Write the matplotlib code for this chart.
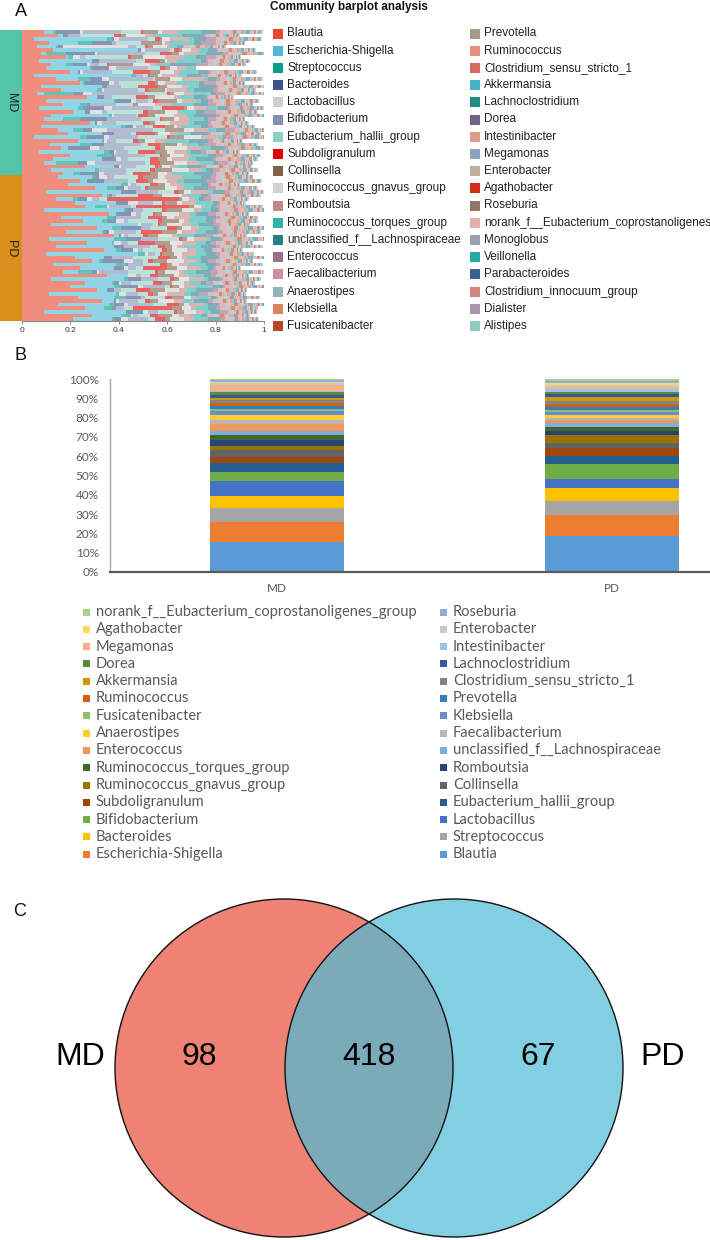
import numpy as np
import matplotlib
matplotlib.use("Agg")
import matplotlib.pyplot as plt
from matplotlib.patches import Rectangle, Circle

# =============================================================================
# Data
# =============================================================================

# Panel A: per-sample genus composition (stack order = legend order)
taxa_a = [
    "Blautia", "Escherichia-Shigella", "Streptococcus", "Bacteroides",
    "Lactobacillus", "Bifidobacterium", "Eubacterium_hallii_group",
    "Subdoligranulum", "Collinsella", "Ruminococcus_gnavus_group",
    "Romboutsia", "Ruminococcus_torques_group",
    "unclassified_f__Lachnospiraceae", "Enterococcus", "Faecalibacterium",
    "Anaerostipes", "Klebsiella", "Fusicatenibacter",
    "Prevotella", "Ruminococcus", "Clostridium_sensu_stricto_1",
    "Akkermansia", "Lachnoclostridium", "Dorea", "Intestinibacter",
    "Megamonas", "Enterobacter", "Agathobacter", "Roseburia",
    "norank_f__Eubacterium_coprostanoligenes_group", "Monoglobus",
    "Veillonella", "Parabacteroides", "Clostridium_innocuum_group",
    "Dialister", "Alistipes",
]
colors_a = [
    "#E8472E", "#4DBBD5", "#00A087", "#3C5488", "#D0D0D0", "#8491B4",
    "#91D1C2", "#E00000", "#7E6148", "#D3D3D3", "#C08A85", "#2EB3AB",
    "#2E7B8C", "#9C6E8C", "#CC919C", "#93B3BF", "#D9865F", "#B5452D",
    "#A8988A", "#E3907E", "#D66A5C", "#45B4C8", "#218A82", "#73638A",
    "#DE9A8D", "#8CA2BF", "#C0AE96", "#CC3314", "#8E7663", "#E3AFAB",
    "#9AA3AD", "#26ABA2", "#3A618B", "#CF8680", "#A595AD", "#8DCBC1",
]

# first 14 genera per sample (estimated), top sample first
md_rows = [
    [.09, .04, .01, .10, .01, .16, .08, .01, .06, .02, .07, .09, .06, .02],
    [.15, .02, .00, .02, .00, .05, .14, .03, .02, .08, .03, .12, .09, .01],
    [.05, .30, .02, .01, .02, .12, .03, .02, .01, .03, .08, .02, .05, .04],
    [.11, .12, .06, .08, .00, .02, .10, .00, .09, .01, .02, .10, .03, .06],
    [.06, .08, .01, .02, .27, .03, .04, .01, .02, .06, .01, .03, .02, .01],
    [.13, .35, .00, .01, .02, .10, .02, .02, .01, .04, .03, .04, .03, .01],
    [.08, .02, .08, .12, .01, .20, .06, .05, .03, .02, .06, .03, .07, .02],
    [.18, .01, .02, .00, .03, .02, .18, .01, .05, .09, .08, .05, .04, .04],
    [.07, .22, .00, .03, .00, .15, .04, .06, .02, .01, .04, .10, .02, .01],
    [.12, .06, .03, .06, .01, .04, .03, .01, .10, .07, .02, .06, .11, .05],
    [.10, .18, .01, .07, .03, .13, .05, .02, .02, .03, .04, .04, .00, .00],
    [.20, .03, .00, .01, .01, .12, .09, .07, .04, .06, .02, .08, .04, .01],
    [.05, .40, .02, .00, .00, .03, .02, .01, .03, .02, .07, .03, .06, .03],
    [.14, .09, .05, .05, .03, .18, .01, .00, .06, .05, .09, .02, .03, .02],
    [.24, .01, .01, .10, .02, .02, .12, .03, .01, .03, .05, .09, .02, .05],
    [.08, .25, .00, .02, .00, .06, .07, .08, .04, .06, .03, .04, .07, .01],
    [.16, .15, .02, .00, .01, .14, .03, .01, .07, .01, .08, .03, .08, .02],
    [.06, .03, .12, .04, .04, .22, .09, .01, .02, .04, .04, .07, .02, .04],
    [.27, .04, .00, .03, .00, .03, .10, .05, .03, .08, .02, .06, .05, .01],
    [.10, .28, .01, .06, .02, .05, .02, .02, .08, .02, .06, .02, .03, .02],
    [.17, .07, .03, .01, .00, .11, .07, .00, .02, .07, .07, .09, .06, .03],
    [.07, .16, .02, .09, .03, .17, .04, .09, .01, .03, .05, .05, .04, .01],
    [.21, .05, .00, .02, .05, .02, .15, .02, .07, .05, .01, .07, .03, .05],
    [.12, .24, .01, .00, .01, .09, .01, .04, .03, .08, .05, .03, .09, .02],
    [.09, .08, .07, .11, .00, .14, .08, .01, .05, .02, .04, .06, .02, .03],
    [.28, .02, .00, .01, .02, .06, .11, .03, .02, .06, .08, .02, .06, .01],
    [.08, .33, .02, .03, .01, .04, .03, .05, .04, .01, .02, .08, .03, .02],
    [.15, .06, .04, .04, .06, .19, .05, .00, .08, .04, .06, .03, .04, .04],
    [.19, .14, .00, .05, .00, .07, .02, .08, .01, .05, .03, .06, .07, .01],
    [.05, .19, .03, .07, .02, .12, .12, .01, .06, .07, .07, .02, .01, .03],
    [.23, .10, .01, .00, .01, .04, .07, .02, .03, .04, .04, .10, .08, .02],
    [.11, .13, .05, .05, .00, .15, .03, .05, .07, .02, .02, .05, .02, .05],
    [.16, .03, .00, .09, .04, .10, .13, .02, .02, .09, .06, .04, .06, .01],
    [.07, .27, .02, .02, .01, .05, .04, .07, .05, .03, .05, .02, .04, .02],
    [.20, .11, .06, .01, .00, .13, .06, .01, .03, .06, .02, .08, .03, .03],
    [.13, .20, .00, .06, .02, .03, .09, .03, .04, .02, .07, .03, .07, .01],
    [.09, .05, .09, .04, .03, .21, .02, .04, .06, .05, .05, .06, .02, .04],
    [.26, .12, .00, .02, .01, .06, .08, .01, .02, .03, .03, .04, .06, .02],
    [.12, .18, .02, .00, .00, .11, .10, .02, .07, .07, .05, .02, .03, .03],
    [.17, .04, .03, .08, .02, .09, .03, .07, .03, .04, .02, .09, .08, .01],
]
pd_rows = [
    [.15, .14, .01, .02, .03, .03, .10, .02, .06, .03, .07, .08, .04, .02],
    [.24, .03, .00, .07, .00, .10, .03, .05, .02, .06, .04, .03, .09, .04],
    [.19, .22, .03, .00, .01, .02, .06, .03, .03, .02, .06, .07, .03, .01],
    [.30, .05, .04, .03, .02, .05, .02, .01, .07, .05, .03, .04, .06, .03],
    [.10, .31, .00, .06, .00, .09, .07, .02, .02, .03, .07, .02, .05, .02],
    [.33, .02, .01, .01, .00, .02, .09, .06, .04, .08, .02, .06, .03, .01],
    [.14, .07, .02, .04, .02, .03, .03, .30, .01, .03, .02, .02, .02, .03],
    [.22, .17, .00, .05, .04, .06, .04, .01, .05, .02, .06, .07, .02, .01],
    [.26, .04, .05, .00, .01, .09, .02, .22, .02, .03, .01, .03, .02, .02],
    [.09, .33, .01, .03, .00, .04, .08, .02, .06, .05, .03, .04, .03, .01],
    [.36, .03, .00, .06, .02, .02, .05, .01, .03, .07, .05, .02, .05, .03],
    [.16, .19, .03, .01, .00, .10, .03, .06, .02, .03, .07, .06, .04, .02],
    [.25, .08, .02, .04, .03, .02, .12, .02, .07, .02, .02, .07, .03, .01],
    [.12, .36, .00, .00, .01, .05, .02, .01, .03, .06, .04, .03, .06, .03],
    [.31, .06, .04, .08, .00, .04, .07, .04, .02, .04, .03, .06, .02, .01],
    [.18, .15, .01, .02, .02, .09, .02, .09, .06, .02, .06, .04, .05, .02],
    [.38, .02, .00, .01, .01, .02, .06, .02, .04, .06, .02, .07, .05, .03],
    [.11, .27, .05, .06, .00, .07, .09, .01, .02, .03, .05, .02, .04, .01],
    [.27, .10, .01, .00, .03, .03, .04, .07, .06, .05, .06, .04, .02, .02],
    [.14, .24, .00, .04, .00, .11, .03, .03, .03, .02, .03, .07, .06, .02],
    [.34, .05, .02, .05, .02, .02, .08, .02, .02, .06, .04, .03, .03, .01],
    [.10, .38, .03, .00, .01, .03, .02, .01, .05, .03, .06, .04, .04, .02],
    [.22, .12, .00, .03, .00, .09, .10, .05, .03, .02, .02, .06, .07, .01],
    [.29, .03, .01, .09, .04, .04, .02, .02, .06, .07, .05, .02, .03, .03],
    [.13, .26, .04, .01, .00, .06, .07, .03, .02, .03, .04, .07, .04, .02],
    [.24, .14, .00, .04, .02, .03, .03, .10, .04, .04, .06, .03, .02, .01],
    [.17, .06, .06, .02, .01, .12, .11, .01, .03, .06, .02, .05, .06, .03],
    [.35, .09, .00, .00, .03, .02, .04, .03, .07, .02, .04, .06, .03, .02],
    [.12, .30, .02, .05, .00, .07, .05, .02, .02, .04, .06, .02, .05, .01],
    [.26, .11, .01, .02, .01, .04, .09, .04, .04, .05, .02, .05, .02, .03],
    [.20, .18, .03, .07, .02, .09, .02, .01, .03, .02, .05, .07, .04, .01],
    [.31, .04, .00, .03, .00, .03, .06, .06, .06, .06, .03, .04, .07, .02],
    [.11, .28, .01, .00, .03, .05, .04, .02, .02, .04, .07, .03, .03, .04],
    [.23, .15, .05, .06, .00, .02, .08, .03, .05, .03, .02, .06, .02, .01],
    [.33, .05, .00, .01, .01, .08, .03, .02, .03, .07, .04, .04, .06, .02],
    [.15, .21, .02, .04, .02, .10, .06, .05, .02, .02, .06, .02, .04, .01],
    [.26, .08, .03, .02, .00, .03, .04, .16, .04, .04, .02, .05, .03, .02],
    [.09, .34, .00, .07, .02, .04, .07, .01, .03, .05, .03, .03, .04, .03],
    [.29, .12, .04, .00, .01, .02, .05, .03, .06, .03, .05, .04, .02, .01],
    [.21, .16, .01, .03, .03, .08, .03, .04, .02, .06, .04, .06, .05, .02],
]
# remaining 22 genera (Faecalibacterium ... Alistipes), typical small amounts
tail_a = [.025, .015, .010, .015, .010, .012, .008, .010, .008, .008, .006,
          .006, .005, .006, .005, .004, .004, .004, .004, .003, .003, .003]
# how much of that tail each sample carries (0 = bar stops early)
md_tail_scale = [1.0, 0.8, 1.1, 0.7, 1.0, 0.9, 1.2, 0.6, 1.0, 0.9,
                 0.0, 1.1, 0.8, 1.0, 0.7, 1.2, 0.9, 1.0, 0.6, 1.1,
                 0.9, 0.8, 1.0, 1.1, 0.7, 0.9, 1.0, 0.8, 1.2, 0.9,
                 0.7, 1.0, 1.1, 0.8, 0.9, 1.0, 0.6, 1.1, 0.9, 0.8]
pd_tail_scale = [0.9, 1.1, 0.7, 1.0, 0.8, 1.2, 0.9, 0.6, 1.0, 1.1,
                 0.8, 0.9, 1.0, 0.7, 1.1, 0.9, 0.8, 1.2, 0.9, 1.0,
                 0.7, 0.8, 1.1, 0.9, 1.0, 0.6, 1.2, 0.8, 0.9, 1.0,
                 1.1, 0.7, 0.9, 1.0, 0.8, 1.1, 0.9, 0.7, 1.0, 0.8]

group_names = ["MD", "PD"]
group_colors = ["#52C5A8", "#D98F1C"]

# Panel B: mean relative abundance (%), bottom to top
taxa_b = [
    "Blautia", "Escherichia-Shigella", "Streptococcus", "Bacteroides",
    "Lactobacillus", "Bifidobacterium", "Eubacterium_hallii_group",
    "Subdoligranulum", "Collinsella", "Ruminococcus_gnavus_group",
    "Romboutsia", "Ruminococcus_torques_group",
    "unclassified_f__Lachnospiraceae", "Enterococcus", "Faecalibacterium",
    "Anaerostipes", "Klebsiella", "Fusicatenibacter", "Prevotella",
    "Ruminococcus", "Clostridium_sensu_stricto_1", "Akkermansia",
    "Lachnoclostridium", "Dorea", "Intestinibacter", "Megamonas",
    "Enterobacter", "Agathobacter", "Roseburia",
    "norank_f__Eubacterium_coprostanoligenes_group",
]
colors_b = [
    "#5B9BD5", "#ED7D31", "#A5A5A5", "#FFC000", "#4472C4", "#70AD47",
    "#255E91", "#9E480E", "#636363", "#997300", "#264478", "#43682B",
    "#7CAFDD", "#F1975A", "#B7B7B7", "#FFCD33", "#698ED0", "#8CC168",
    "#327DC2", "#D26012", "#848484", "#CC9A00", "#335AA1", "#5A8A39",
    "#9DC3E6", "#F4B183", "#C9C9C9", "#FFD966", "#8FAADC", "#A9D18E",
]
md_b = [15.4, 10.6, 7.4, 5.9, 7.9, 4.7, 4.5, 3.3, 3.3, 2.1, 3.1, 2.9, 2.1,
        3.3, 2.2, 2.6, 1.9, 1.4, 1.6, 1.5, 1.2, 1.4, 1.2, 1.6, 0.9, 3.0,
        0.7, 0.8, 0.8, 0.7]
pd_b = [18.5, 10.9, 7.3, 6.9, 4.8, 7.7, 3.9, 4.0, 2.8, 4.0, 2.2, 2.1, 2.2,
        1.2, 1.4, 1.4, 1.4, 1.4, 1.4, 1.7, 1.6, 1.7, 1.5, 1.4, 1.2, 1.4,
        1.1, 0.8, 1.1, 1.0]

# Panel C: Venn counts
venn_only_md = 98
venn_shared = 418
venn_only_pd = 67

# =============================================================================
# Figure
# =============================================================================

W, H = 710, 1240
fig = plt.figure(figsize=(W / 100, H / 100), dpi=100)
plt.rcParams["font.family"] = ["Liberation Sans", "DejaVu Sans"]


def px_axes(x0, y0, x1, y1):
    return fig.add_axes([x0 / W, 1 - y1 / H, (x1 - x0) / W, (y1 - y0) / H])


# ---- Panel A ---------------------------------------------------------------
tail = np.array(tail_a)
mat = []
for row, sc in zip(md_rows, md_tail_scale):
    mat.append(list(row) + list(tail * sc))
for row, sc in zip(pd_rows, pd_tail_scale):
    mat.append(list(row) + list(tail * sc))
mat = np.array(mat)
n_rows = mat.shape[0]
ypos = np.arange(n_rows)

ax_a = px_axes(22, 30, 264, 321)
left = np.zeros(n_rows)
for j in range(mat.shape[1]):
    ax_a.barh(ypos, mat[:, j], left=left, height=1.0, color=colors_a[j],
              alpha=0.62, linewidth=0)
    left += mat[:, j]
ax_a.set_xlim(0, 1)
ax_a.set_ylim(n_rows - 0.5, -0.5)
ax_a.set_yticks([])
ax_a.set_xticks([0, 0.2, 0.4, 0.6, 0.8, 1.0])
ax_a.set_xticklabels(["0", "0.2", "0.4", "0.6", "0.8", "1"])
ax_a.tick_params(axis="x", labelsize=6, length=2.5, width=0.6,
                 color="#777777", labelcolor="#333333", pad=2)
for s in ["top", "right", "left"]:
    ax_a.spines[s].set_visible(False)
ax_a.spines["bottom"].set_color("#888888")
ax_a.spines["bottom"].set_linewidth(0.8)

ax_g = px_axes(0, 30, 22, 321)
n_md = len(md_rows)
n_pd = len(pd_rows)
starts = [0, n_md]
sizes = [n_md, n_pd]
for name, col, st, sz in zip(group_names, group_colors, starts, sizes):
    ax_g.barh(st - 0.5 + sz / 2, 1, height=sz, color=col, linewidth=0)
    ax_g.text(0.5, st - 0.5 + sz / 2, name, rotation=-90, ha="center",
              va="center", fontsize=9, color="#222222")
ax_g.set_xlim(0, 1)
ax_g.set_ylim(n_rows - 0.5, -0.5)
ax_g.axis("off")

# ---- Panel B ---------------------------------------------------------------
ax_b = px_axes(110, 379, 779, 572)
bottom = np.zeros(2)
for j in range(len(taxa_b)):
    vals = np.array([md_b[j], pd_b[j]])
    ax_b.bar([0, 1], vals, bottom=bottom, width=0.40, color=colors_b[j],
             linewidth=0)
    bottom += vals
ax_b.set_xlim(-0.5, 1.5)
ax_b.set_ylim(0, 100)
ax_b.set_yticks(np.arange(0, 101, 10))
ax_b.set_yticklabels([f"{v}%" for v in range(0, 101, 10)],
                     family=["Lato", "DejaVu Sans"])
ax_b.set_xticks([0, 1])
ax_b.set_xticklabels(group_names, family=["Lato", "DejaVu Sans"])
ax_b.tick_params(axis="both", length=0, labelsize=8.5, labelcolor="#595959")
ax_b.tick_params(axis="y", pad=8)
ax_b.tick_params(axis="x", pad=8)
for s in ["top", "right"]:
    ax_b.spines[s].set_visible(False)
ax_b.spines["left"].set_color("#A6A6A6")
ax_b.spines["left"].set_linewidth(1.0)
ax_b.spines["bottom"].set_color("#595959")
ax_b.spines["bottom"].set_linewidth(1.6)

# ---- Overlay: legends, Venn, panel letters -----------------------------------
ov = fig.add_axes([0, 0, 1, 1])
ov.set_xlim(0, W)
ov.set_ylim(H, 0)
ov.axis("off")
ov.patch.set_alpha(0)

for lab, x, y in [("A", 21, 12), ("B", 20, 356), ("C", 20, 912)]:
    ov.text(x, y, lab, fontsize=13, ha="center", va="center", color="#111111")

ov.text(270, 7, "Community barplot analysis", fontsize=8.5, fontweight="bold",
        va="center", ha="left", color="#111111")
half = len(taxa_a) // 2
for j, name in enumerate(taxa_a):
    col_i, row_i = divmod(j, half)
    px = 273 if col_i == 0 else 470
    py = 33.5 + row_i * 17.2
    ov.add_patch(Rectangle((px, py - 5), 10, 10, color=colors_a[j], linewidth=0))
    ov.text(px + 14, py, name, fontsize=8.5, va="center", ha="left",
            color="#222222")

n_b = len(taxa_b)
for k in range(n_b // 2):
    py = 612 + k * 17.3
    for idx, px in [(n_b - 1 - 2 * k, 83), (n_b - 2 - 2 * k, 440)]:
        ov.add_patch(Rectangle((px, py - 3.5), 6.5, 7, color=colors_b[idx],
                               linewidth=0))
        ov.text(px + 13, py, taxa_b[idx], fontsize=10.5, va="center",
                ha="left", color="#595959", family=["Lato", "DejaVu Sans"])

# Venn
cy = 1068
r = 169
ov.add_patch(Circle((284, cy), r, facecolor="#EE8274", edgecolor="none"))
ov.add_patch(Circle((454, cy), r, facecolor="#82CFE2", edgecolor="none"))
clip_c = Circle((284, cy), r, transform=ov.transData)
inter = Circle((454, cy), r, facecolor="#7BAAB8", edgecolor="none")
ov.add_patch(inter)
inter.set_clip_path(clip_c)
for cx in [284, 454]:
    ov.add_patch(Circle((cx, cy), r, facecolor="none", edgecolor="#111111",
                        linewidth=1.0))

for txt, x in [("MD", 80), (str(venn_only_md), 199), (str(venn_shared), 369),
               (str(venn_only_pd), 538), ("PD", 663)]:
    ov.text(x, 1057, txt, fontsize=23, ha="center", va="center",
            color="#000000")

fig.savefig("out.png", dpi=100)
